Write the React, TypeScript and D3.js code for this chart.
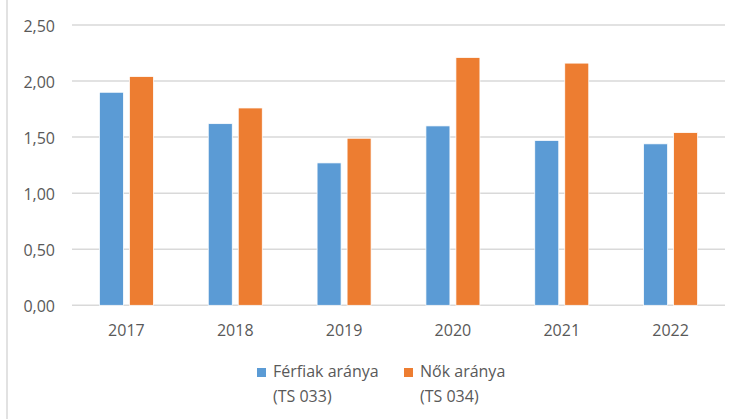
import React from "react";
import * as d3 from "d3";

const years = ["2017", "2018", "2019", "2020", "2021", "2022"];
const ferfiak = [1.9, 1.62, 1.27, 1.6, 1.47, 1.44];
const nok = [2.04, 1.76, 1.49, 2.21, 2.16, 1.54];
const yTicks = [0, 0.5, 1, 1.5, 2, 2.5];
const seriesNames = [
  ["Férfiak aránya", "(TS 033)"],
  ["Nők aránya", "(TS 034)"],
];
const colors = ["#5B9BD5", "#ED7D31"];

const width = 739;
const height = 419;
const font = "'Open Sans', sans-serif";

export default function App() {
  const left = 72,
    right = 725,
    top = 25,
    bottom = 305.3;

  const x = d3.scaleBand().domain(years).range([left, right]);
  const y = d3.scaleLinear().domain([0, 2.5]).range([bottom, top]);
  const barW = 24;
  const gap = 6;
  const fmt = (v: number) => d3.format(".2f")(v).replace(".", ",");

  const series = [ferfiak, nok];

  return (
    <svg
      width={width}
      height={height}
      style={{ position: "absolute", left: 0, top: 0, background: "#fff" }}
    >
      <line x1={7} x2={7} y1={0} y2={height} stroke="#d9d9d9" strokeWidth={1.5} />
      {yTicks.map((t) => (
        <g key={t}>
          <line x1={left} x2={right} y1={y(t)} y2={y(t)} stroke="#d9d9d9" strokeWidth={1.5} />
          <text
            x={55}
            y={y(t) + 6.5}
            textAnchor="end"
            fontFamily={font}
            fontSize={16}
            fill="#595959"
          >
            {fmt(t)}
          </text>
        </g>
      ))}
      {years.map((yr, i) => {
        const cx = (x(yr) as number) + x.bandwidth() / 2;
        return (
          <g key={yr}>
            {series.map((s, k) => {
              const bx = k === 0 ? cx - gap / 2 - barW : cx + gap / 2;
              return (
                <rect
                  key={k}
                  x={bx}
                  y={y(s[i])}
                  width={barW}
                  height={bottom - y(s[i])}
                  fill={colors[k]}
                  stroke="#fff"
                  strokeWidth={0.75}
                />
              );
            })}
            <text
              x={cx}
              y={336}
              textAnchor="middle"
              fontFamily={font}
              fontSize={16}
              fill="#595959"
            >
              {yr}
            </text>
          </g>
        );
      })}
      {seriesNames.map((lines, k) => {
        const lx = k === 0 ? 257 : 404;
        return (
          <g key={k}>
            <rect x={lx} y={368} width={9} height={9} fill={colors[k]} />
            {lines.map((ln, j) => (
              <text
                key={j}
                x={lx + 16}
                y={377 + j * 25}
                fontFamily={font}
                fontSize={16}
                fill="#595959"
              >
                {ln}
              </text>
            ))}
          </g>
        );
      })}
    </svg>
  );
}
